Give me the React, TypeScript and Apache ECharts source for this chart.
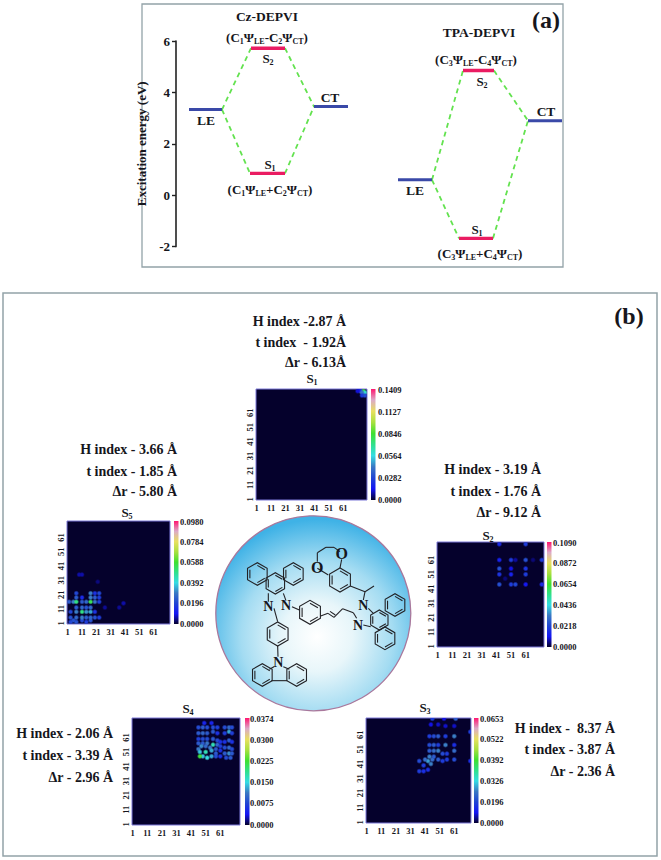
import React, { useEffect, useRef } from "react";
import * as echarts from "echarts";

const SERIF = "'Liberation Serif', serif";
const INK = "#16161c";

/* ---------- panel (a) energy levels: [start, end, energy] ---------- */
const czLevelsBlue = [[13, 46, 3.33], [138, 172, 3.45]];
const czLevelsRed = [[74, 109, 0.85], [75, 109, 5.72]];
const tpaLevelsBlue = [[222, 256, 0.6], [352, 386, 2.9]];
const tpaLevelsRed = [[283, 317, -1.68], [287, 318, 4.85]];
const czLinks = [[46, 3.33, 75, 5.72], [109, 5.72, 138, 3.45], [46, 3.33, 74, 0.85], [109, 0.85, 138, 3.45]];
const tpaLinks = [[256, 0.6, 287, 4.85], [318, 4.85, 352, 2.9], [256, 0.6, 283, -1.68], [317, -1.68, 352, 2.9]];

/* ---------- panel (b) density matrices: [hole, electron, value] ---------- */
const s1Spots = [[75, 76, 0.085], [73, 76, 0.035], [76, 75, 0.06], [74, 75, 0.04], [72, 77, 0.02], [74, 73, 0.025], [76, 73, 0.03], [71, 76, 0.012]];
const s2Spots = [[43, 44, 0.024], [51, 44, 0.02], [54, 44, 0.022], [61, 44, 0.012], [43, 51, 0.018], [51, 51, 0.014], [61, 51, 0.02], [43, 55, 0.024], [51, 55, 0.01], [61, 55, 0.018], [43, 61, 0.014], [51, 61, 0.02], [61, 61, 0.024], [54, 61, 0.006], [43, 72, 0.016], [61, 72, 0.02], [72, 61, 0.02], [72, 44, 0.016], [66, 61, 0.004], [47, 48, 0.004]];
const s3Spots = [[37, 36, 0.012], [40, 36, 0.01], [43, 37, 0.01], [37, 43, 0.014], [40, 40, 0.012], [43, 43, 0.022], [45, 41, 0.02], [41, 44, 0.018], [46, 44, 0.018], [44, 46, 0.02], [47, 46, 0.016], [50, 44, 0.016], [53, 43, 0.012], [56, 44, 0.012], [61, 44, 0.014], [72, 43, 0.01], [44, 50, 0.016], [47, 50, 0.018], [50, 50, 0.02], [53, 48, 0.014], [56, 48, 0.012], [61, 50, 0.018], [44, 54, 0.014], [47, 54, 0.016], [50, 54, 0.012], [55, 54, 0.02], [61, 54, 0.01], [44, 60, 0.012], [47, 60, 0.014], [50, 60, 0.016], [55, 60, 0.012], [61, 60, 0.02], [72, 63, 0.012], [45, 68, 0.006], [50, 68, 0.005], [55, 67, 0.005], [61, 67, 0.005], [46, 72, 0.012], [62, 72, 0.016], [54, 72, 0.006]];
const s4Spots = [[50, 71, 0.005], [55, 71, 0.005], [46, 68, 0.008], [49, 68, 0.009], [52, 68, 0.008], [56, 68, 0.008], [59, 68, 0.007], [46, 64, 0.009], [49, 64, 0.01], [52, 64, 0.009], [56, 65, 0.009], [59, 64, 0.006], [64, 68, 0.008], [67, 68, 0.01], [69, 68, 0.008], [64, 64, 0.007], [67, 65, 0.013], [69, 64, 0.007], [46, 60, 0.007], [49, 60, 0.008], [52, 60, 0.008], [56, 60, 0.009], [59, 59, 0.008], [61, 58, 0.006], [46, 57, 0.009], [49, 57, 0.009], [52, 57, 0.011], [56, 56, 0.017], [59, 56, 0.01], [61, 55, 0.007], [48, 55, 0.012], [46, 53, 0.011], [51, 55, 0.01], [54, 54, 0.011], [58, 53, 0.009], [61, 52, 0.006], [47, 51, 0.014], [51, 51, 0.017], [55, 52, 0.013], [58, 50, 0.009], [49, 48, 0.014], [47, 48, 0.022], [52, 47, 0.015], [55, 48, 0.013], [58, 48, 0.008], [61, 48, 0.006], [64, 58, 0.006], [67, 59, 0.009], [69, 58, 0.006], [64, 54, 0.008], [67, 54, 0.01], [69, 53, 0.008], [64, 50, 0.009], [67, 50, 0.012], [69, 50, 0.009], [65, 47, 0.008], [68, 47, 0.009]];
const s5Spots = [[3, 2, 0.02], [5, 3, 0.022], [7, 2, 0.022], [11, 3, 0.02], [14, 2, 0.018], [17, 3, 0.022], [3, 5, 0.022], [7, 5, 0.026], [11, 5, 0.03], [14, 5, 0.024], [17, 5, 0.026], [20, 5, 0.022], [23, 5, 0.018], [3, 9, 0.02], [7, 9, 0.03], [11, 9, 0.05], [14, 9, 0.032], [17, 9, 0.034], [20, 9, 0.016], [7, 12, 0.024], [11, 12, 0.026], [14, 12, 0.022], [17, 12, 0.026], [2, 16, 0.024], [5, 16, 0.03], [7, 16, 0.05], [11, 16, 0.024], [14, 16, 0.026], [17, 16, 0.055], [20, 16, 0.028], [23, 16, 0.018], [7, 19, 0.024], [11, 19, 0.014], [17, 19, 0.03], [20, 19, 0.024], [23, 19, 0.018], [7, 22, 0.02], [17, 22, 0.03], [20, 22, 0.016], [23, 22, 0.02], [9, 35, 0.006], [11, 35, 0.006], [40, 15, 0.006], [37, 12, 0.005], [22, 30, 0.004], [27, 12, 0.005]];

const s1Ticks = ["0.1409", "0.1127", "0.0846", "0.0564", "0.0282", "0.0000"];
const s2Ticks = ["0.1090", "0.0872", "0.0654", "0.0436", "0.0218", "0.0000"];
const s3Ticks = ["0.0653", "0.0522", "0.0392", "0.0326", "0.0196", "0.0000"];
const s4Ticks = ["0.0374", "0.0300", "0.0225", "0.0150", "0.0075", "0.0000"];
const s5Ticks = ["0.0980", "0.0784", "0.0588", "0.0392", "0.0196", "0.0000"];

const s1Metrics = ["H index -2.87 Å", "t index  - 1.92Å", "Δr - 6.13Å"];
const s2Metrics = ["H index - 3.19 Å", "t index - 1.76 Å", "Δr - 9.12 Å"];
const s3Metrics = ["H index -  8.37 Å", "t index - 3.87 Å", "Δr - 2.36 Å"];
const s4Metrics = ["H index - 2.06 Å", "t index - 3.39 Å", "Δr - 2.96 Å"];
const s5Metrics = ["H index - 3.66 Å", "t index - 1.85 Å", "Δr - 5.80 Å"];

const RAMP = ["#05012c", "#1414f5", "#2044d4", "#3a78c4", "#34dce4", "#30e08c", "#3fe030", "#a8e040", "#e8e060", "#dcaac8", "#ff1470"];

const panels = [
  { n: 1, spots: s1Spots, ticks: s1Ticks, metrics: s1Metrics, cats: 77, rot: 90, l: 256, t: 389, w: 111, h: 111, barX: 371, labX: 378, titleX: 312, titleY: 378, textR: 346, textY: [321, 342, 362] },
  { n: 2, spots: s2Spots, ticks: s2Ticks, metrics: s2Metrics, cats: 73, rot: 90, l: 437, t: 542, w: 107, h: 105, barX: 547, labX: 553, titleX: 488, titleY: 535, textR: 541, textY: [469, 491, 512] },
  { n: 3, spots: s3Spots, ticks: s3Ticks, metrics: s3Metrics, cats: 72, rot: 90, l: 366, t: 718, w: 105, h: 105, barX: 474, labX: 480, titleX: 425, titleY: 707, textR: 615, textY: [728, 749, 771] },
  { n: 4, spots: s4Spots, ticks: s4Ticks, metrics: s4Metrics, cats: 74, rot: 90, l: 132, t: 718, w: 108, h: 107, barX: 245, labX: 250, titleX: 188, titleY: 708, textR: 113, textY: [733, 755, 777] },
  { n: 5, spots: s5Spots, ticks: s5Ticks, metrics: s5Metrics, cats: 72, rot: 90, l: 67, t: 521, w: 103, h: 103, barX: 174, labX: 180, titleX: 127, titleY: 512, textR: 177, textY: [449, 471, 491] },
];

/* ---------- helpers ---------- */
const subRich = (size: number, sub: number) => ({
  m: { fill: INK, fontFamily: SERIF, fontWeight: "bold", fontSize: size, lineHeight: size + 3 },
  s: { fill: INK, fontFamily: SERIF, fontWeight: "bold", fontSize: sub, lineHeight: size + 3, verticalAlign: "bottom" },
});
const richText = (x: number, y: number, text: string, size = 13, sub = 8) => ({
  type: "text", x, y,
  style: { text, rich: subRich(size, sub), align: "center", verticalAlign: "middle", fill: INK, fontFamily: SERIF },
});
const plain = (x: number, y: number, text: string, size: number, align = "center") => ({
  type: "text", x, y,
  style: { text, fill: INK, fontFamily: SERIF, fontWeight: "bold", fontSize: size, align, verticalAlign: "middle" },
});
const formula = (a: string, b: string, op: string) =>
  `{m|(C}{s|${a}}{m|Ψ}{s|LE}{m|${op}C}{s|${b}}{m|Ψ}{s|CT}{m|)}`;

const levelLine = (rows: number[][]) => {
  const out: any[] = [];
  rows.forEach((r) => { out.push([r[0], r[2]], [r[1], r[2]], [null, null]); });
  return out;
};
const linkLine = (rows: number[][]) => {
  const out: any[] = [];
  rows.forEach((r) => { out.push([r[0], r[1]], [r[2], r[3]], [null, null]); });
  return out;
};

/* molecule drawn on the sphere, coordinates relative to the sphere's box */
const mX = (z: number) => 200 + z / 3;
const mY = (z: number) => 510 + z / 3;
const bondStyle = { stroke: "#222226", lineWidth: 1.1, fill: "none" };
const bond = (a: number, b: number, c: number, d: number) => ({
  type: "line", shape: { x1: mX(a), y1: mY(b), x2: mX(c), y2: mY(d) }, style: bondStyle,
});
const hexagon = (cx: number, cy: number, r: number, rot: number) => {
  const pts: number[][] = [];
  for (let i = 0; i < 6; i++) {
    const a = ((rot + i * 60) * Math.PI) / 180;
    pts.push([mX(cx + r * Math.cos(a)), mY(cy + r * Math.sin(a))]);
  }
  const els: any[] = [{ type: "polygon", shape: { points: pts }, style: bondStyle }];
  const k = 0.76;
  const c = [mX(cx), mY(cy)];
  [0, 2, 4].forEach((i) => {
    const p = pts[i], q = pts[(i + 1) % 6];
    els.push({
      type: "line",
      shape: { x1: c[0] + (p[0] - c[0]) * k, y1: c[1] + (p[1] - c[1]) * k, x2: c[0] + (q[0] - c[0]) * k, y2: c[1] + (q[1] - c[1]) * k },
      style: bondStyle,
    });
  });
  return els;
};
const atom = (z1: number, z2: number, t: string, size = 14) => plain(mX(z1), mY(z2), t, size);
const molecule = () => [
  ...hexagon(172, 192, 34, 30), ...hexagon(280, 192, 34, 30), ...hexagon(226, 220, 32, 30),
  ...hexagon(330, 307, 36, 30), ...hexagon(233, 372, 36, 30),
  ...hexagon(187, 495, 34, 30), ...hexagon(290, 495, 34, 30),
  ...hexagon(420, 210, 36, 30),
  ...hexagon(585, 285, 34, 30), ...hexagon(555, 385, 34, 30), ...hexagon(538, 330, 30, 30),
  bond(205, 275, 205, 250), bond(258, 272, 250, 250), bond(276, 290, 298, 300),
  bond(222, 295, 233, 335), bond(233, 408, 234, 440), bond(222, 470, 208, 478), bond(250, 470, 268, 478),
  bond(214, 512, 262, 512),
  bond(362, 318, 384, 310), bond(384, 310, 402, 322), bond(390, 304, 406, 315),
  bond(402, 322, 428, 296), bond(428, 296, 460, 308), bond(460, 308, 470, 325),
  bond(385, 195, 352, 175), bond(352, 155, 352, 128), bond(352, 128, 378, 112), bond(378, 112, 402, 112), bond(402, 112, 420, 125),
  bond(425, 148, 420, 174), bond(451, 228, 495, 245), bond(495, 245, 522, 228), bond(495, 245, 490, 270),
  bond(505, 295, 520, 310), bond(490, 345, 512, 350),
  atom(205, 290, "N"), atom(258, 285, "N"), atom(235, 456, "N"),
  atom(490, 287, "N"), atom(474, 345, "N"),
  atom(425, 130, "O", 16), atom(352, 172, "O", 16),
];

export default function App() {
  const ref = useRef<HTMLDivElement>(null);
  useEffect(() => {
    if (!ref.current) return;
    const chart = echarts.init(ref.current, undefined, { renderer: "svg" });

    const energySeries = (data: any[], color: string, width: number, dash?: number[]) => ({
      type: "line", xAxisIndex: 0, yAxisIndex: 0, data, symbol: "none", connectNulls: false, silent: true,
      lineStyle: { color, width, type: dash || "solid", cap: "butt" }, z: dash ? 2 : 3,
    });

    const grids: any[] = [{ left: 176, top: 41, width: 390, height: 205.6 }];
    const xAxes: any[] = [{ gridIndex: 0, type: "value", min: 0, max: 390, show: false }];
    const yAxes: any[] = [{
      gridIndex: 0, type: "value", min: -2, max: 6, interval: 2,
      name: "Excitation energy (eV)", nameLocation: "middle", nameGap: 21, nameRotate: 90,
      nameTextStyle: { fontFamily: SERIF, fontWeight: "bold", fontSize: 13, color: INK },
      axisLine: { show: true, onZero: false, lineStyle: { color: "#222", width: 1.6 } },
      axisTick: { show: true, length: 4, lineStyle: { color: "#222", width: 1.4 } },
      axisLabel: { fontFamily: SERIF, fontWeight: "bold", fontSize: 13, color: INK, margin: 6 },
      splitLine: { show: false },
    }];
    const series: any[] = [
      energySeries(linkLine(czLinks), "#63e24f", 1.8, [5, 4]),
      energySeries(linkLine(tpaLinks), "#63e24f", 1.8, [5, 4]),
      energySeries(levelLine(czLevelsBlue), "#3a49a8", 3),
      energySeries(levelLine(tpaLevelsBlue), "#3a49a8", 3),
      energySeries(levelLine(czLevelsRed), "#ea1c62", 3.4),
      energySeries(levelLine(tpaLevelsRed), "#ea1c62", 3.4),
    ];
    const visualMaps: any[] = [];
    const graphics: any[] = [];

    graphics.push(
      { type: "rect", shape: { x: 142, y: 4, width: 421, height: 263 }, style: { fill: "none", stroke: "#93a3a8", lineWidth: 1.3 } },
      { type: "rect", shape: { x: 3, y: 293, width: 654, height: 563 }, style: { fill: "none", stroke: "#93a3a8", lineWidth: 1.5 } },
      plain(546, 20, "(a)", 24),
      plain(629, 316, "(b)", 24),
      plain(267, 16, "Cz-DEPVI", 13.5),
      richText(267, 37, formula("1", "2", "-")),
      richText(268, 58, "{m|S}{s|2}"),
      richText(270, 164, "{m|S}{s|1}"),
      richText(270, 189, formula("1", "2", "+")),
      plain(206, 120, "LE", 13.5),
      plain(330, 97, "CT", 13.5),
      plain(479, 32, "TPA-DEPVI", 13.5),
      richText(476, 59, formula("3", "4", "-")),
      richText(482, 81, "{m|S}{s|2}"),
      richText(477, 229, "{m|S}{s|1}"),
      richText(480, 253, formula("3", "4", "+")),
      plain(415, 190, "LE", 13.5),
      plain(546, 111, "CT", 13.5),
      {
        type: "circle", shape: { cx: 313.3, cy: 613.3, r: 97.5 },
        style: {
          fill: new echarts.graphic.RadialGradient(0.52, 0.62, 0.6, [
            { offset: 0, color: "#ffffff" }, { offset: 0.3, color: "#e8f6fa" },
            { offset: 0.65, color: "#a4dcf2" }, { offset: 1, color: "#3fb2e6" },
          ]),
          stroke: "#a9789c", lineWidth: 1.3,
        },
      },
      ...molecule(),
    );

    panels.forEach((p, i) => {
      const gi = i + 1;
      const cats = Array.from({ length: p.cats }, (_, k) => String(k + 1));
      grids.push({
        left: p.l, top: p.t, width: p.w, height: p.h, show: true,
        backgroundColor: "#05012c", borderColor: "#7c78d8", borderWidth: 1,
      });
      const lab = { fontFamily: SERIF, fontWeight: "bold", fontSize: 8.5, color: INK, interval: 9 };
      xAxes.push({
        gridIndex: gi, type: "category", data: cats, axisLine: { show: false }, axisTick: { show: false },
        splitLine: { show: false }, axisLabel: { ...lab, margin: 3, showMaxLabel: false },
      });
      yAxes.push({
        gridIndex: gi, type: "category", data: cats, axisLine: { show: false }, axisTick: { show: false },
        splitLine: { show: false }, axisLabel: { ...lab, margin: 2, rotate: p.rot, showMaxLabel: false },
      });
      const seriesIndex = series.length;
      series.push({
        type: "custom", coordinateSystem: "cartesian2d", xAxisIndex: gi, yAxisIndex: gi, silent: true, clip: true,
        data: p.spots.map((d) => [d[0] - 1, d[1] - 1, d[2]]),
        encode: { x: 0, y: 1 },
        renderItem: (_: any, api: any) => {
          const c = api.coord([api.value(0), api.value(1)]);
          const band = api.size([1, 1]);
          const col = api.visual("color");
          return {
            type: "circle",
            shape: { cx: c[0], cy: c[1], r: band[0] * 2 },
            style: {
              fill: new echarts.graphic.RadialGradient(0.5, 0.5, 0.5, [
                { offset: 0, color: col }, { offset: 0.4, color: col },
                { offset: 1, color: echarts.color.modifyAlpha(col, 0) },
              ]),
            },
          };
        },
      });
      visualMaps.push({
        show: false, type: "continuous", seriesIndex, dimension: 2,
        min: 0, max: parseFloat(p.ticks[0]), inRange: { color: RAMP },
      });
      graphics.push({
        type: "rect", shape: { x: p.barX, y: p.t, width: 4.5, height: p.h },
        style: {
          fill: new echarts.graphic.LinearGradient(0, 1, 0, 0,
            RAMP.map((color, k) => ({ offset: k / (RAMP.length - 1), color }))),
        },
      });
      p.ticks.forEach((t, k) => {
        graphics.push({
          type: "text", x: p.labX, y: p.t + ((p.h - 1) * k) / 5 + 0.5,
          style: { text: t, fill: INK, fontFamily: SERIF, fontWeight: "bold", fontSize: 8.5, align: "left", verticalAlign: "middle" },
        });
      });
      graphics.push(richText(p.titleX, p.titleY, `{m|S}{s|${p.n}}`));
      p.metrics.forEach((m, k) => graphics.push(plain(p.textR, p.textY[k], m, 14, "right")));
    });

    chart.setOption({
      animation: false,
      backgroundColor: "#ffffff",
      grid: grids, xAxis: xAxes, yAxis: yAxes, series, visualMap: visualMaps,
      graphic: { elements: graphics },
    });
    return () => chart.dispose();
  }, []);
  return <div ref={ref} style={{ position: "absolute", left: 0, top: 0, width: 661, height: 860 }} />;
}
